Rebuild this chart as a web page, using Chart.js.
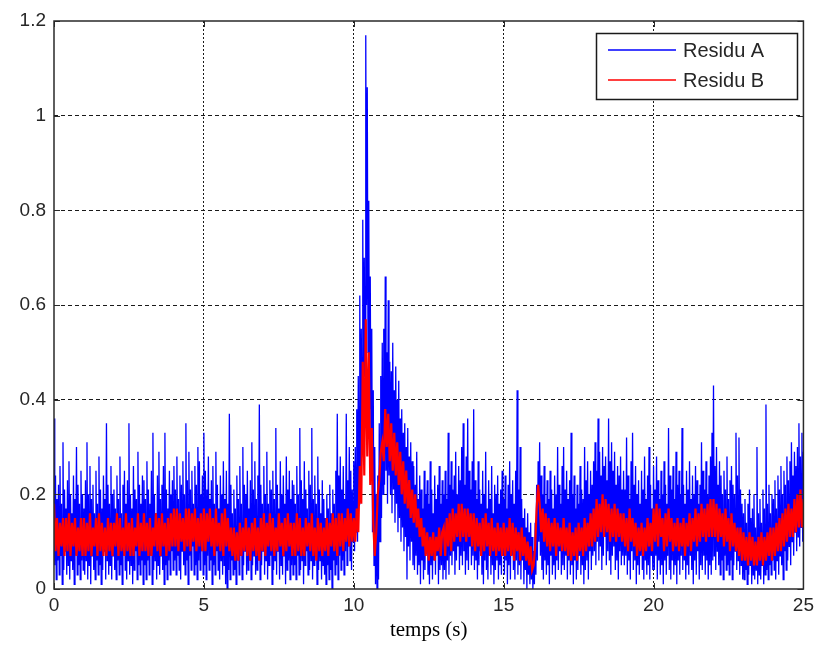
<!DOCTYPE html>
<html>
<head>
<meta charset="utf-8">
<script src="https://cdn.jsdelivr.net/npm/chart.js@4.4.1/dist/chart.umd.min.js"></script>
<style>
  html, body { margin: 0; padding: 0; background: #fff; }
  #wrap { position: relative; width: 819px; height: 646px; }
</style>
</head>
<body>
<div id="wrap"><canvas id="chart"></canvas></div>
<script>
// axes
const xTicks = [0, 5, 10, 15, 20, 25];
const yTicks = [0, 0.2, 0.4, 0.6, 0.8, 1, 1.2];
const seriesNames = ["Residu A", "Residu B"];
const seriesColors = ["#0000ff", "#ff0000"];

// pas d'échantillonnage (s)
const stepA = 0.025;
const stepB = 0.05;

// Residu A, une ligne = 1 s (40 échantillons)
const residuA = [
  0.36, 0.05, 0.24, 0.02, 0.19, 0.06, 0.22, 0.03, 0.26, 0.07, 0.18, 0.01, 0.31, 0.04, 0.21, 0.08, 0.17, 0.03, 0.23, 0.05,
  0.27, 0.02, 0.20, 0.06, 0.16, 0.04, 0.24, 0.01, 0.19, 0.07, 0.30, 0.03, 0.22, 0.05, 0.18, 0.02, 0.25, 0.06, 0.20, 0.04,
  0.17, 0.03, 0.23, 0.06, 0.31, 0.02, 0.20, 0.05, 0.26, 0.01, 0.19, 0.07, 0.22, 0.04, 0.16, 0.02, 0.25, 0.06, 0.18, 0.03,
  0.28, 0.05, 0.21, 0.01, 0.17, 0.04, 0.24, 0.08, 0.19, 0.02, 0.35, 0.06, 0.22, 0.03, 0.18, 0.05, 0.26, 0.02, 0.20, 0.07,
  0.21, 0.04, 0.17, 0.02, 0.24, 0.06, 0.19, 0.03, 0.28, 0.05, 0.16, 0.01, 0.22, 0.07, 0.25, 0.04, 0.18, 0.02, 0.23, 0.06,
  0.35, 0.03, 0.20, 0.05, 0.17, 0.01, 0.26, 0.04, 0.21, 0.08, 0.19, 0.02, 0.29, 0.05, 0.22, 0.03, 0.18, 0.06, 0.24, 0.01,
  0.23, 0.05, 0.19, 0.02, 0.27, 0.06, 0.21, 0.03, 0.18, 0.07, 0.25, 0.01, 0.33, 0.04, 0.20, 0.06, 0.16, 0.02, 0.24, 0.05,
  0.29, 0.03, 0.19, 0.07, 0.22, 0.04, 0.26, 0.01, 0.33, 0.05, 0.21, 0.02, 0.17, 0.06, 0.25, 0.03, 0.20, 0.08, 0.23, 0.04,
  0.26, 0.06, 0.21, 0.03, 0.28, 0.07, 0.19, 0.04, 0.24, 0.02, 0.22, 0.08, 0.27, 0.05, 0.20, 0.03, 0.35, 0.06, 0.23, 0.01,
  0.29, 0.07, 0.21, 0.04, 0.25, 0.09, 0.18, 0.03, 0.26, 0.05, 0.22, 0.02, 0.30, 0.06, 0.27, 0.04, 0.20, 0.08, 0.24, 0.03,
  0.33, 0.05, 0.25, 0.02, 0.21, 0.07, 0.28, 0.04, 0.19, 0.06, 0.23, 0.01, 0.26, 0.05, 0.18, 0.03, 0.29, 0.08, 0.22, 0.04,
  0.17, 0.02, 0.24, 0.06, 0.20, 0.03, 0.27, 0.05, 0.19, 0.01, 0.25, 0.00, 0.18, 0.04, 0.37, 0.02, 0.22, 0.06, 0.16, 0.03,
  0.21, 0.04, 0.17, 0.01, 0.24, 0.06, 0.19, 0.03, 0.26, 0.07, 0.18, 0.02, 0.30, 0.05, 0.22, 0.08, 0.20, 0.03, 0.25, 0.04,
  0.17, 0.06, 0.23, 0.02, 0.31, 0.05, 0.21, 0.07, 0.27, 0.03, 0.19, 0.04, 0.24, 0.06, 0.39, 0.02, 0.22, 0.05, 0.18, 0.08,
  0.26, 0.03, 0.20, 0.06, 0.29, 0.02, 0.18, 0.05, 0.23, 0.07, 0.21, 0.01, 0.25, 0.04, 0.19, 0.06, 0.34, 0.03, 0.22, 0.08,
  0.17, 0.02, 0.27, 0.05, 0.20, 0.03, 0.24, 0.07, 0.18, 0.01, 0.28, 0.04, 0.21, 0.06, 0.25, 0.02, 0.19, 0.05, 0.23, 0.03,
  0.22, 0.05, 0.18, 0.02, 0.26, 0.07, 0.20, 0.03, 0.34, 0.04, 0.23, 0.06, 0.19, 0.01, 0.27, 0.05, 0.21, 0.08, 0.17, 0.03,
  0.25, 0.04, 0.22, 0.06, 0.34, 0.02, 0.19, 0.05, 0.24, 0.07, 0.18, 0.01, 0.28, 0.04, 0.21, 0.06, 0.16, 0.02, 0.23, 0.05,
  0.19, 0.03, 0.15, 0.01, 0.20, 0.05, 0.17, 0.02, 0.22, 0.04, 0.16, 0.00, 0.21, 0.06, 0.18, 0.03, 0.25, 0.05, 0.37, 0.02,
  0.24, 0.07, 0.28, 0.04, 0.21, 0.06, 0.26, 0.03, 0.19, 0.08, 0.37, 0.05, 0.23, 0.09, 0.30, 0.06, 0.25, 0.04, 0.21, 0.10,
  0.27, 0.08, 0.30, 0.12, 0.38, 0.10, 0.45, 0.18, 0.62, 0.22, 0.55, 0.30, 0.78, 0.35, 0.70, 0.45, 1.17, 0.60, 1.06, 0.50,
  0.82, 0.38, 0.66, 0.25, 0.55, 0.12, 0.42, 0.05, 0.30, 0.01, 0.20, 0.00, 0.24, 0.02, 0.35, 0.10, 0.45, 0.15, 0.52, 0.20,
  0.55, 0.22, 0.66, 0.25, 0.50, 0.18, 0.61, 0.24, 0.48, 0.20, 0.46, 0.16, 0.52, 0.21, 0.42, 0.14, 0.47, 0.18, 0.40, 0.12,
  0.44, 0.15, 0.36, 0.10, 0.38, 0.13, 0.33, 0.08, 0.35, 0.11, 0.30, 0.02, 0.34, 0.09, 0.28, 0.06, 0.31, 0.10, 0.27, 0.05,
  0.26, 0.04, 0.22, 0.07, 0.29, 0.03, 0.19, 0.05, 0.24, 0.01, 0.21, 0.06, 0.17, 0.02, 0.25, 0.04, 0.20, 0.08, 0.23, 0.03,
  0.18, 0.01, 0.27, 0.05, 0.21, 0.02, 0.16, 0.06, 0.24, 0.03, 0.19, 0.07, 0.22, 0.01, 0.26, 0.04, 0.18, 0.05, 0.23, 0.02,
  0.20, 0.04, 0.25, 0.02, 0.19, 0.06, 0.33, 0.03, 0.22, 0.07, 0.27, 0.05, 0.21, 0.08, 0.24, 0.03, 0.29, 0.06, 0.20, 0.09,
  0.26, 0.04, 0.23, 0.07, 0.30, 0.05, 0.35, 0.08, 0.22, 0.03, 0.28, 0.06, 0.36, 0.04, 0.25, 0.09, 0.21, 0.05, 0.27, 0.07,
  0.38, 0.04, 0.23, 0.06, 0.19, 0.02, 0.27, 0.05, 0.21, 0.08, 0.18, 0.03, 0.25, 0.01, 0.20, 0.06, 0.29, 0.04, 0.17, 0.02,
  0.23, 0.07, 0.19, 0.03, 0.26, 0.05, 0.16, 0.01, 0.22, 0.04, 0.20, 0.06, 0.24, 0.02, 0.18, 0.05, 0.21, 0.03, 0.25, 0.07,
  0.19, 0.03, 0.24, 0.06, 0.17, 0.01, 0.22, 0.05, 0.27, 0.02, 0.20, 0.07, 0.23, 0.04, 0.18, 0.02, 0.25, 0.06, 0.42, 0.03,
  0.21, 0.05, 0.30, 0.02, 0.19, 0.06, 0.15, 0.01, 0.17, 0.04, 0.13, 0.00, 0.16, 0.03, 0.12, 0.01, 0.14, 0.02, 0.11, 0.00,
  0.08, 0.01, 0.14, 0.03, 0.22, 0.06, 0.27, 0.10, 0.31, 0.07, 0.24, 0.04, 0.20, 0.02, 0.26, 0.06, 0.18, 0.03, 0.23, 0.05,
  0.19, 0.01, 0.25, 0.07, 0.21, 0.03, 0.17, 0.05, 0.24, 0.02, 0.20, 0.06, 0.30, 0.04, 0.22, 0.08, 0.18, 0.03, 0.26, 0.05,
  0.30, 0.04, 0.21, 0.07, 0.25, 0.02, 0.19, 0.06, 0.23, 0.03, 0.33, 0.05, 0.20, 0.01, 0.24, 0.06, 0.17, 0.02, 0.22, 0.04,
  0.18, 0.07, 0.26, 0.03, 0.21, 0.05, 0.19, 0.01, 0.30, 0.04, 0.23, 0.06, 0.27, 0.02, 0.20, 0.08, 0.25, 0.04, 0.22, 0.07,
  0.27, 0.08, 0.31, 0.05, 0.25, 0.10, 0.36, 0.06, 0.29, 0.09, 0.24, 0.04, 0.30, 0.07, 0.26, 0.11, 0.28, 0.05, 0.23, 0.08,
  0.36, 0.06, 0.27, 0.03, 0.31, 0.07, 0.25, 0.09, 0.29, 0.04, 0.22, 0.06, 0.26, 0.02, 0.24, 0.08, 0.28, 0.05, 0.21, 0.07,
  0.25, 0.05, 0.21, 0.07, 0.32, 0.03, 0.24, 0.06, 0.19, 0.02, 0.27, 0.08, 0.33, 0.04, 0.22, 0.06, 0.26, 0.01, 0.20, 0.05,
  0.23, 0.03, 0.18, 0.07, 0.25, 0.04, 0.21, 0.02, 0.28, 0.06, 0.19, 0.03, 0.24, 0.05, 0.30, 0.02, 0.22, 0.07, 0.17, 0.04,
  0.26, 0.04, 0.21, 0.07, 0.28, 0.02, 0.23, 0.06, 0.19, 0.03, 0.25, 0.05, 0.20, 0.01, 0.27, 0.06, 0.22, 0.03, 0.18, 0.07,
  0.34, 0.04, 0.24, 0.02, 0.21, 0.06, 0.26, 0.03, 0.19, 0.05, 0.29, 0.01, 0.22, 0.06, 0.25, 0.03, 0.20, 0.07, 0.34, 0.04,
  0.22, 0.06, 0.18, 0.02, 0.25, 0.05, 0.21, 0.03, 0.27, 0.07, 0.19, 0.04, 0.24, 0.01, 0.20, 0.06, 0.26, 0.03, 0.23, 0.08,
  0.18, 0.02, 0.22, 0.05, 0.31, 0.04, 0.25, 0.07, 0.21, 0.03, 0.27, 0.06, 0.20, 0.02, 0.24, 0.05, 0.28, 0.03, 0.33, 0.06,
  0.43, 0.07, 0.26, 0.04, 0.30, 0.08, 0.22, 0.05, 0.27, 0.03, 0.24, 0.06, 0.20, 0.02, 0.25, 0.07, 0.21, 0.04, 0.28, 0.05,
  0.19, 0.03, 0.23, 0.06, 0.26, 0.02, 0.22, 0.05, 0.20, 0.08, 0.33, 0.04, 0.24, 0.06, 0.32, 0.03, 0.21, 0.05, 0.18, 0.02,
  0.16, 0.02, 0.19, 0.04, 0.14, 0.01, 0.18, 0.03, 0.21, 0.05, 0.15, 0.01, 0.17, 0.03, 0.20, 0.02, 0.13, 0.04, 0.30, 0.01,
  0.16, 0.03, 0.19, 0.02, 0.14, 0.05, 0.21, 0.01, 0.17, 0.03, 0.39, 0.04, 0.18, 0.02, 0.22, 0.05, 0.16, 0.03, 0.20, 0.06,
  0.19, 0.04, 0.23, 0.02, 0.17, 0.06, 0.24, 0.03, 0.21, 0.07, 0.26, 0.05, 0.20, 0.02, 0.25, 0.08, 0.22, 0.04, 0.28, 0.06,
  0.23, 0.09, 0.27, 0.05, 0.31, 0.10, 0.24, 0.07, 0.29, 0.12, 0.26, 0.08, 0.30, 0.11, 0.35, 0.09, 0.28, 0.13, 0.33, 0.10,
  0.29
];

// Residu B, une ligne = 1 s (20 échantillons)
const residuB = [
  0.18, 0.08, 0.15, 0.07, 0.14, 0.09, 0.15, 0.07, 0.15, 0.08, 0.16, 0.07, 0.14, 0.09, 0.15, 0.07, 0.13, 0.08, 0.15, 0.07,
  0.15, 0.07, 0.14, 0.08, 0.16, 0.07, 0.13, 0.09, 0.15, 0.07, 0.16, 0.08, 0.14, 0.07, 0.13, 0.07, 0.15, 0.08, 0.14, 0.07,
  0.14, 0.09, 0.16, 0.07, 0.15, 0.08, 0.13, 0.07, 0.16, 0.08, 0.14, 0.07, 0.15, 0.07, 0.13, 0.09, 0.16, 0.07, 0.14, 0.08,
  0.16, 0.08, 0.14, 0.07, 0.15, 0.07, 0.13, 0.09, 0.16, 0.08, 0.15, 0.07, 0.16, 0.09, 0.14, 0.07, 0.15, 0.08, 0.16, 0.09,
  0.17, 0.09, 0.17, 0.08, 0.16, 0.10, 0.15, 0.08, 0.17, 0.09, 0.17, 0.08, 0.16, 0.10, 0.17, 0.08, 0.15, 0.09, 0.16, 0.08,
  0.17, 0.08, 0.16, 0.10, 0.17, 0.09, 0.15, 0.07, 0.17, 0.09, 0.14, 0.08, 0.16, 0.07, 0.17, 0.09, 0.15, 0.08, 0.13, 0.07,
  0.13, 0.06, 0.12, 0.06, 0.14, 0.07, 0.13, 0.08, 0.15, 0.07, 0.13, 0.06, 0.14, 0.08, 0.15, 0.07, 0.13, 0.06, 0.15, 0.08,
  0.16, 0.07, 0.14, 0.09, 0.16, 0.08, 0.15, 0.07, 0.13, 0.08, 0.16, 0.09, 0.14, 0.07, 0.15, 0.08, 0.16, 0.09, 0.14, 0.07,
  0.14, 0.07, 0.16, 0.08, 0.15, 0.07, 0.13, 0.07, 0.15, 0.09, 0.14, 0.08, 0.16, 0.07, 0.13, 0.06, 0.15, 0.08, 0.14, 0.07,
  0.13, 0.08, 0.15, 0.07, 0.14, 0.09, 0.16, 0.08, 0.15, 0.07, 0.16, 0.09, 0.16, 0.08, 0.15, 0.10, 0.17, 0.09, 0.16, 0.10,
  0.15, 0.10, 0.17, 0.12, 0.26, 0.18, 0.48, 0.24, 0.57, 0.28, 0.50, 0.22, 0.34, 0.14, 0.07, 0.12, 0.20, 0.23, 0.29, 0.31,
  0.27, 0.38, 0.30, 0.37, 0.27, 0.35, 0.25, 0.33, 0.24, 0.31, 0.22, 0.29, 0.20, 0.27, 0.18, 0.25, 0.17, 0.23, 0.15, 0.21,
  0.14, 0.20, 0.13, 0.17, 0.11, 0.15, 0.09, 0.13, 0.07, 0.12, 0.06, 0.11, 0.07, 0.12, 0.06, 0.11, 0.08, 0.13, 0.07, 0.12,
  0.13, 0.07, 0.15, 0.09, 0.16, 0.08, 0.17, 0.10, 0.16, 0.11, 0.18, 0.10, 0.18, 0.11, 0.17, 0.10, 0.17, 0.11, 0.16, 0.09,
  0.16, 0.08, 0.15, 0.09, 0.14, 0.07, 0.15, 0.08, 0.16, 0.09, 0.14, 0.07, 0.15, 0.08, 0.13, 0.07, 0.14, 0.08, 0.13, 0.07,
  0.14, 0.07, 0.13, 0.08, 0.15, 0.07, 0.14, 0.06, 0.13, 0.08, 0.12, 0.06, 0.13, 0.07, 0.11, 0.06, 0.10, 0.05, 0.09, 0.04,
  0.05, 0.09, 0.17, 0.22, 0.18, 0.12, 0.17, 0.10, 0.16, 0.09, 0.15, 0.08, 0.14, 0.09, 0.15, 0.07, 0.14, 0.09, 0.13, 0.08,
  0.15, 0.08, 0.13, 0.07, 0.14, 0.06, 0.12, 0.07, 0.13, 0.06, 0.14, 0.08, 0.13, 0.07, 0.15, 0.08, 0.14, 0.09, 0.16, 0.09,
  0.17, 0.10, 0.19, 0.11, 0.18, 0.12, 0.20, 0.11, 0.19, 0.12, 0.18, 0.10, 0.17, 0.11, 0.18, 0.10, 0.17, 0.11, 0.16, 0.10,
  0.16, 0.09, 0.15, 0.08, 0.17, 0.10, 0.15, 0.09, 0.14, 0.07, 0.13, 0.08, 0.14, 0.07, 0.13, 0.08, 0.15, 0.09, 0.14, 0.08,
  0.17, 0.10, 0.18, 0.09, 0.17, 0.11, 0.15, 0.08, 0.16, 0.09, 0.17, 0.10, 0.15, 0.08, 0.14, 0.09, 0.15, 0.08, 0.14, 0.09,
  0.15, 0.07, 0.14, 0.09, 0.16, 0.08, 0.15, 0.10, 0.17, 0.09, 0.16, 0.10, 0.18, 0.11, 0.17, 0.10, 0.18, 0.11, 0.19, 0.11,
  0.19, 0.11, 0.18, 0.10, 0.17, 0.11, 0.16, 0.09, 0.17, 0.10, 0.15, 0.08, 0.16, 0.09, 0.14, 0.08, 0.13, 0.07, 0.13, 0.06,
  0.12, 0.06, 0.11, 0.05, 0.12, 0.06, 0.11, 0.05, 0.10, 0.05, 0.11, 0.06, 0.12, 0.05, 0.11, 0.06, 0.12, 0.07, 0.13, 0.06,
  0.13, 0.07, 0.14, 0.08, 0.15, 0.08, 0.16, 0.09, 0.17, 0.10, 0.18, 0.11, 0.17, 0.11, 0.19, 0.12, 0.20, 0.13, 0.21, 0.13,
  0.19
];

const SANS = "'Liberation Sans', Arial, Helvetica, sans-serif";
const SERIF = "'Liberation Serif', 'Times New Roman', serif";
const TEXT = "#262626";

function toPoints(vals, step) {
  return vals.map((v, i) => ({ x: +(i * step).toFixed(3), y: v }));
}

// pas de grille sur les bords du cadre
function gridColor(lo, hi) {
  return (c) => (c.tick && (c.tick.value === lo || c.tick.value === hi)) ? "rgba(0,0,0,0)" : "#1a1a1a";
}

// cadre + graduations internes + légende façon matlab
const matlabFrame = {
  id: "matlabFrame",
  afterDraw(chart) {
    const { ctx, chartArea: a, scales } = chart;
    ctx.save();
    ctx.strokeStyle = "#2a2a2a";
    ctx.lineWidth = 1;
    ctx.beginPath();
    xTicks.forEach((v) => {
      const px = Math.round(scales.x.getPixelForValue(v)) + 0.5;
      ctx.moveTo(px, a.bottom); ctx.lineTo(px, a.bottom - 6);
      ctx.moveTo(px, a.top); ctx.lineTo(px, a.top + 6);
    });
    yTicks.forEach((v) => {
      const py = Math.round(scales.y.getPixelForValue(v)) + 0.5;
      ctx.moveTo(a.left, py); ctx.lineTo(a.left + 6, py);
      ctx.moveTo(a.right, py); ctx.lineTo(a.right - 6, py);
    });
    ctx.stroke();
    ctx.lineWidth = 1.5;
    ctx.strokeRect(a.left, a.top, a.right - a.left, a.bottom - a.top);

    // légende
    const bx = 596, by = 33, bw = 201, bh = 66;
    ctx.fillStyle = "#fff";
    ctx.fillRect(bx, by, bw, bh);
    ctx.lineWidth = 1.5;
    ctx.strokeStyle = "#1a1a1a";
    ctx.strokeRect(bx + 0.5, by + 0.5, bw, bh);
    ctx.font = "20px " + SANS;
    ctx.textBaseline = "middle";
    chart.data.datasets.forEach((ds, i) => {
      const ly = by + 17 + i * 30;
      ctx.strokeStyle = ds.borderColor;
      ctx.lineWidth = 1.5;
      ctx.beginPath();
      ctx.moveTo(bx + 12, ly); ctx.lineTo(bx + 80, ly);
      ctx.stroke();
      ctx.fillStyle = TEXT;
      ctx.fillText(ds.label, bx + 87, ly + 1);
    });
    ctx.restore();
  }
};

new Chart(document.getElementById("chart"), {
  type: "line",
  data: {
    datasets: [
      { label: seriesNames[0], data: toPoints(residuA, stepA), borderColor: seriesColors[0],
        borderWidth: 1.3, pointRadius: 0, tension: 0, order: 2 },
      { label: seriesNames[1], data: toPoints(residuB, stepB), borderColor: seriesColors[1],
        borderWidth: 2.2, pointRadius: 0, tension: 0, order: 1 }
    ]
  },
  options: {
    responsive: true, maintainAspectRatio: false, animation: false,
    events: [],
    layout: { padding: { top: 21, right: 13, left: 0, bottom: 0 } },
    plugins: { legend: { display: false }, tooltip: { enabled: false } },
    scales: {
      x: {
        type: "linear", min: 0, max: 25,
        afterBuildTicks: (s) => { s.ticks = xTicks.map((v) => ({ value: v })); },
        afterFit: (s) => { s.height = 57; },
        grid: { color: gridColor(0, 25), lineWidth: 1, drawTicks: false },
        border: { display: false, dash: [2, 2] },
        ticks: { color: TEXT, font: { family: SANS, size: 19 }, padding: 5, maxRotation: 0,
          callback: (v) => String(v) },
        title: { display: true, text: "temps (s)", color: "#000",
          font: { family: SERIF, size: 21 }, padding: { top: 0, bottom: 3 } }
      },
      y: {
        type: "linear", min: 0, max: 1.2,
        afterBuildTicks: (s) => { s.ticks = yTicks.map((v) => ({ value: v })); },
        afterFit: (s) => { s.width = 54; },
        grid: { color: gridColor(0, 1.2), lineWidth: 1, drawTicks: false },
        border: { display: false, dash: [4, 3] },
        ticks: { color: TEXT, font: { family: SANS, size: 19 }, padding: 8,
          callback: (v) => String(v) }
      }
    }
  },
  plugins: [matlabFrame]
});
</script>
</body>
</html>
